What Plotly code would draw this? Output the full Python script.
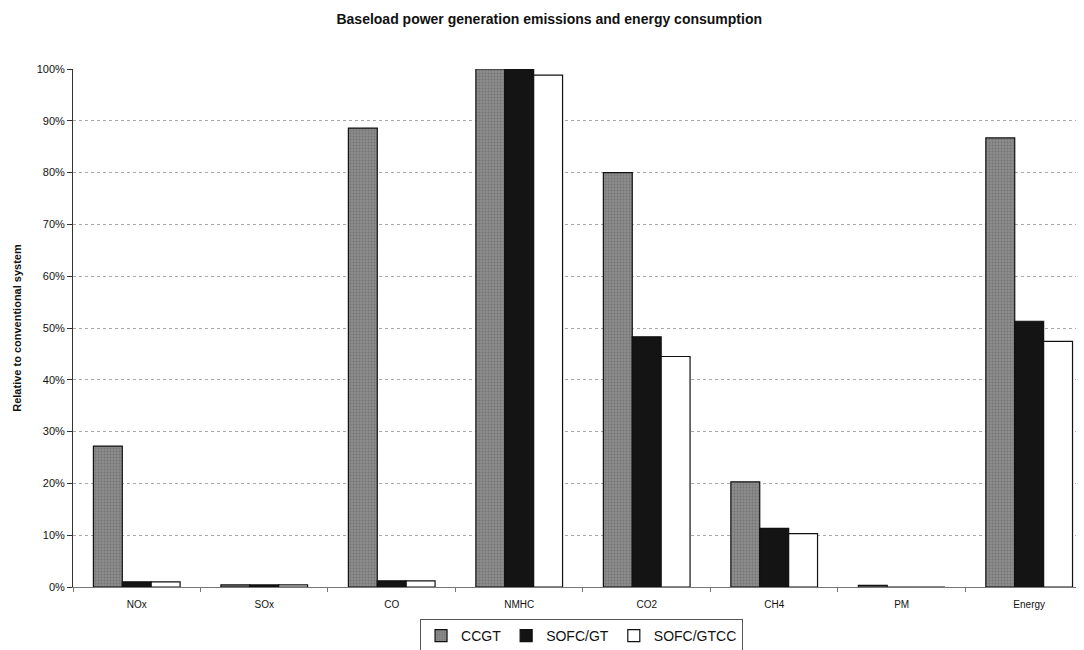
import plotly.graph_objects as go

categories = ["NOx", "SOx", "CO", "NMHC", "CO2", "CH4", "PM", "Energy"]
ccgt = [0.272, 0.004, 0.886, 1.0, 0.80, 0.203, 0.003, 0.867]
sofc_gt = [0.010, 0.004, 0.012, 1.0, 0.483, 0.113, 0.0, 0.513]
sofc_gtcc = [0.010, 0.004, 0.012, 0.988, 0.445, 0.103, 0.0, 0.474]
series_names = ["CCGT", "SOFC/GT", "SOFC/GTCC"]
y_ticks = [0, 0.1, 0.2, 0.3, 0.4, 0.5, 0.6, 0.7, 0.8, 0.9, 1.0]

colors = ["#8a8a8a", "#141414", "#ffffff"]
patterns = [dict(shape=".", fgcolor="#5e5e5e", bgcolor="#8c8c8c", size=3, solidity=0.35),
            None, None]

fig = go.Figure()
for name, vals, col, pat in zip(series_names, [ccgt, sofc_gt, sofc_gtcc], colors, patterns):
    marker = dict(color=col, line=dict(color="#111111", width=1.2))
    if pat:
        marker["pattern"] = pat
    fig.add_trace(go.Bar(x=categories, y=vals, name=name, marker=marker))

font_family = "Liberation Sans, Arial, sans-serif"
fig.update_layout(
    width=1076, height=642,
    paper_bgcolor="white", plot_bgcolor="white",
    font=dict(family=font_family, color="#111111"),
    margin=dict(l=65, r=0, t=61, b=63, autoexpand=False),
    barmode="group", bargap=0.32, bargroupgap=0,
    title=dict(text="<b>Baseload power generation emissions and energy consumption</b>",
               x=0.503, xanchor="center", y=0.991, yanchor="top",
               font=dict(size=14, family=font_family, color="#111111")),
    legend=dict(orientation="h", x=0.503, xanchor="center", y=-0.062, yanchor="top",
                bordercolor="#555555", borderwidth=1, font=dict(size=14, color="#111111"),
                itemwidth=30, tracegroupgap=0),
    showlegend=True,
)
fig.update_yaxes(
    range=[0, 1.0], tickvals=y_ticks, tickformat=".0%", automargin=False,
    showgrid=True, gridcolor="#a8a8a8", griddash="dot", gridwidth=1,
    showline=True, linecolor="#333333", linewidth=1,
    ticks="outside", ticklen=5, tickcolor="#333333",
    tickfont=dict(size=11, color="#111111"), zeroline=False,
    title=dict(text="<b>Relative to conventional system</b>", font=dict(size=11, color="#111111"), standoff=12),
)
fig.update_xaxes(
    range=[-0.5, 7.43], showline=True, linecolor="#777777", linewidth=1, automargin=False,
    ticks="outside", tickson="boundaries", ticklen=4, tickcolor="#777777",
    ticklabelstandoff=8,
    tickfont=dict(size=10, color="#111111"), showgrid=False,
)
fig.write_html("out.html")
